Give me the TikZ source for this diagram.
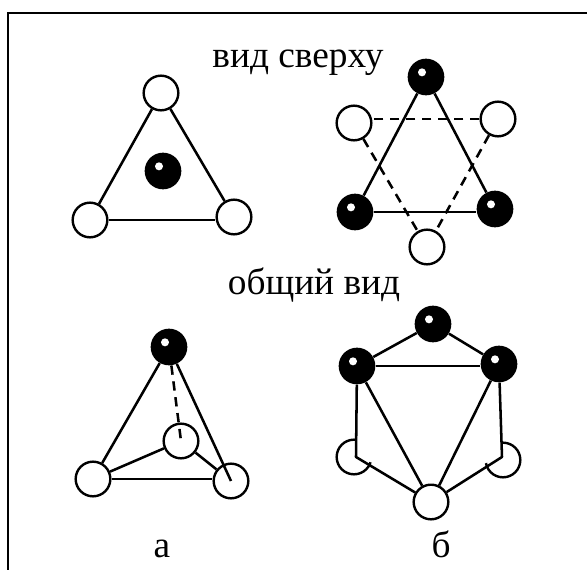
\documentclass[tikz,border=0pt]{standalone}
\usepackage{fontspec}
\setmainfont{Liberation Serif}
\tikzset{
    svyaz/.style={line width=1.9pt},
    shtrih/.style={line width=1.9pt,dash pattern=on 7pt off 5pt},
    belyi/.style={circle,draw,fill=white,line width=1.8pt,minimum size=26pt,inner sep=0pt},
    chernyi/.style={circle,fill=black,minimum size=27.5pt,inner sep=0pt,
      path picture={\fill[white] ([xshift=-3pt,yshift=3.5pt]path picture bounding box.center) circle (3pt);}},
    podpis/.style={anchor=base,font=\fontsize{28}{32}\selectfont},
  }
\begin{document}
\begin{tikzpicture}[x=0.75pt,y=-0.75pt]
	\useasboundingbox (0,0) rectangle (587,570);
	%RAMKA
	\coordinate (r0) at (8,570);
	\coordinate (r1) at (8,13);
	\coordinate (r2) at (587,13);
	\draw[line width=1.8pt] (r0) -- (r1) -- (r2);

	%TEXTES
	\node[podpis] (sverhu) at (298,68) {вид сверху};
	\node[podpis] (obshii) at (314,295) {общий вид};
	\node[podpis] (a) at (162,558) {а};
	\node[podpis] (b) at (441,558) {б};

	%VID SVERHU, a
	\node[belyi] (A1) at (161,93) {};
	\node[belyi] (A2) at (90,220) {};
	\node[belyi] (A3) at (234,217) {};
	\node[chernyi] (A0) at (163,171) {};
	\draw[svyaz] (A1) -- (A2);
	\draw[svyaz] (A1) -- (A3);
	\draw[svyaz] (A2.east) -- (A2.east -| A3.west);

	%VID SVERHU, b
	\node[chernyi] (B1) at (426,77) {};
	\node[chernyi] (B2) at (355,212) {};
	\node[chernyi] (B3) at (495,209) {};
	\node[belyi] (B4) at (354,123) {};
	\node[belyi] (B5) at (498,119) {};
	\node[belyi] (B6) at (427,247) {};
	\draw[svyaz] (B1) -- (B2);
	\draw[svyaz] (B1) -- (B3);
	\draw[svyaz] (B2.east) -- (B2.east -| B3.west);
	\draw[shtrih] (B5.west) -- (B5.west -| B4.east);
	\draw[shtrih] (B4) -- (B6);
	\draw[shtrih] (B5) -- (B6);

	%OBSHII VID, a
	\node[chernyi] (C1) at (169,347) {};
	\node[belyi] (C2) at (93,479) {};
	\node[belyi] (C3) at (231,481) {};
	\node[belyi] (C4) at (181,441) {};
	\draw[svyaz] (C1) -- (C2);
	\draw[svyaz] (C1) -- (C3.center);
	\draw[svyaz] (C2.east) -- (C2.east -| C3.west);
	\draw[svyaz] (C2) -- (C4);
	\draw[svyaz] (C3) -- (C4);
	\draw[shtrih] (C1) -- (C4.center);

	%OBSHII VID, b
	\node[belyi] (D5) at (354,457) {};
	\node[belyi] (D6) at (503,460) {};
	\coordinate (D7) at (356,457);
	\coordinate (D8) at (502,457);
	\node[chernyi] (D1) at (433,324) {};
	\node[chernyi] (D2) at (357,366) {};
	\node[chernyi] (D3) at (499,364) {};
	\node[belyi] (D4) at (431,502) {};
	\fill[white] (D2.south) -- (D7) -- (D4.north) -- (D8) -- (D3.south) -- cycle;
	\draw[svyaz] (D1) -- (D2);
	\draw[svyaz] (D1) -- (D3);
	\draw[svyaz] (D2.east) -- (D2.east -| D3.west);
	\draw[svyaz] (D2) -- (D4);
	\draw[svyaz] (D3) -- (D4);
	\draw[svyaz,line join=round] (D2) -- (D7) -- (D4);
	\draw[svyaz,line join=round] (D3) -- (D8) -- (D4);
\end{tikzpicture}
\end{document}
